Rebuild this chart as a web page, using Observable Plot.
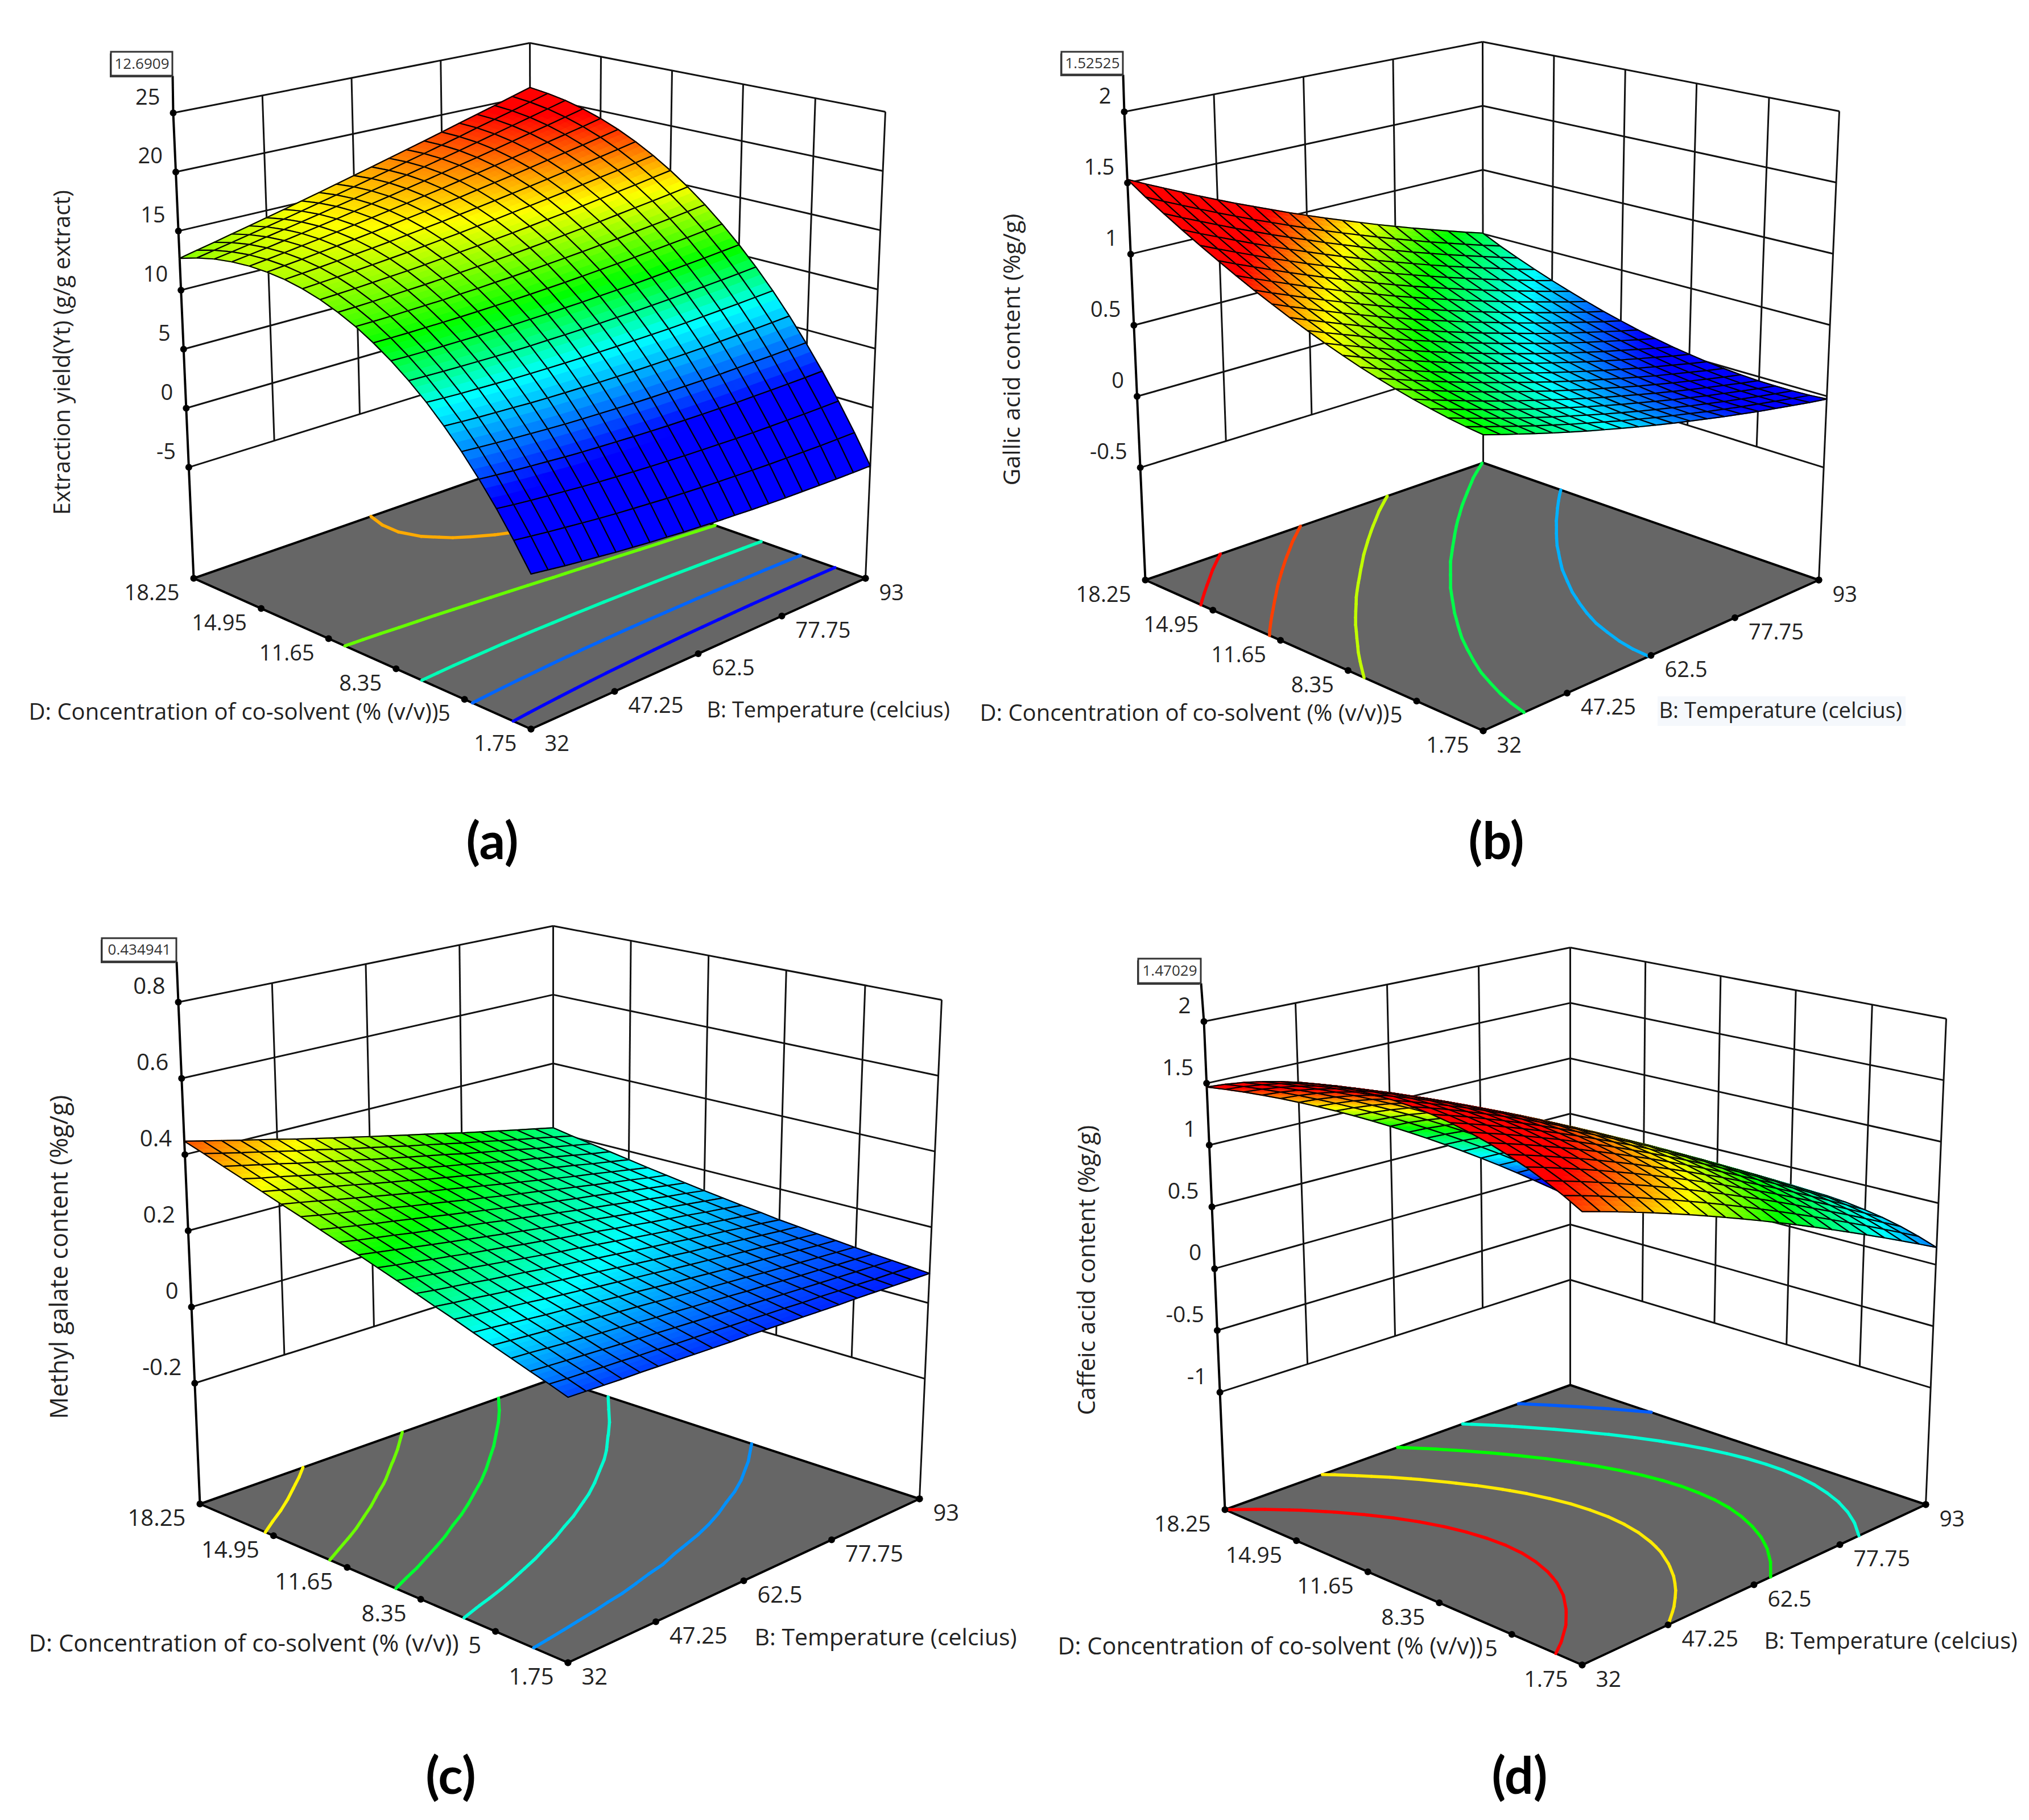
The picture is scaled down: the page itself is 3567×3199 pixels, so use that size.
<!DOCTYPE html>
<html>
<head>
<meta charset="utf-8">
<style>html,body{margin:0;padding:0;background:#fff}svg{display:block}</style>
<script src="https://cdn.jsdelivr.net/npm/d3@7"></script>
<script src="https://cdn.jsdelivr.net/npm/@observablehq/plot@0.6"></script>
</head>
<body>
<div id="chart"></div>
<script>
// Tick labels
const tempTicks = [32, 47.25, 62.5, 77.75, 93];
const solventTicks = [18.25, 14.95, 11.65, 8.35, 5, 1.75];
const yieldTicks = [-5, 0, 5, 10, 15, 20, 25];
const gallicTicks = [-0.5, 0, 0.5, 1, 1.5, 2];
const methylTicks = [-0.2, 0, 0.2, 0.4, 0.6, 0.8];
const caffeicTicks = [-1, -0.5, 0, 0.5, 1, 1.5, 2];

// Contour levels drawn on each floor
const yieldLevels = [-0.67, 3.67, 8, 12.3, 16.5];
const gallicLevels = [0.254, 0.508, 0.762, 1.017, 1.271];
const methylLevels = [0.124, 0.185, 0.247, 0.308, 0.37];
const caffeicLevels = [0.1, 0.44, 0.79, 1.13, 1.47];

// Rows run D = 1.75 to 18.25, columns run B = 32 to 93.
const yieldGrid = [
[-2.8,-2.99,-3.18,-3.35,-3.51,-3.68,-3.82,-3.96,-4.08,-4.21,-4.31,-4.42,-4.5,-4.59,-4.66,-4.73,-4.77,-4.82,-4.86,-4.89,-4.9],
[-.77,-.94,-1.11,-1.26,-1.41,-1.56,-1.69,-1.8,-1.91,-2.02,-2.11,-2.2,-2.27,-2.33,-2.39,-2.44,-2.47,-2.5,-2.53,-2.53,-2.53],
[1.14,.97,.82,.69,.56,.43,.32,.22,.13,.04,-.03,-.1,-.15,-.2,-.25,-.28,-.29,-.3,-.31,-.3,-.28],
[2.9,2.76,2.63,2.52,2.41,2.29,2.2,2.12,2.05,1.98,1.92,1.87,1.84,1.81,1.79,1.77,1.78,1.79,1.8,1.82,1.86],
[4.54,4.42,4.31,4.21,4.12,4.03,3.95,3.89,3.84,3.79,3.75,3.72,3.71,3.7,3.69,3.7,3.73,3.76,3.78,3.83,3.89],
[6.04,5.94,5.85,5.78,5.71,5.63,5.58,5.54,5.51,5.47,5.46,5.45,5.46,5.47,5.48,5.51,5.56,5.61,5.65,5.72,5.8],
[7.42,7.33,7.26,7.21,7.16,7.11,7.08,7.06,7.05,7.04,7.05,7.06,7.09,7.12,7.15,7.2,7.27,7.34,7.41,7.5,7.6],
[8.65,8.6,8.55,8.52,8.49,8.46,8.45,8.45,8.47,8.48,8.51,8.54,8.59,8.64,8.7,8.77,8.87,8.96,9.05,9.16,9.28],
[9.76,9.72,9.7,9.69,9.69,9.68,9.7,9.72,9.76,9.79,9.85,9.9,9.98,10.05,10.13,10.23,10.34,10.46,10.57,10.71,10.85],
[10.73,10.72,10.72,10.74,10.76,10.78,10.82,10.87,10.92,10.98,11.06,11.14,11.24,11.34,11.45,11.57,11.7,11.84,11.98,12.14,12.31],
[11.58,11.59,11.61,11.66,11.7,11.74,11.81,11.88,11.97,12.05,12.15,12.26,12.38,12.5,12.64,12.78,12.95,13.11,13.27,13.46,13.65],
[12.28,12.32,12.37,12.44,12.51,12.58,12.67,12.77,12.88,12.99,13.12,13.25,13.4,13.55,13.71,13.88,14.07,14.26,14.45,14.66,14.88],
[12.86,12.93,13,13.1,13.2,13.29,13.41,13.54,13.67,13.81,13.97,14.12,14.3,14.48,14.66,14.86,15.08,15.29,15.51,15.75,15.99],
[13.3,13.4,13.5,13.63,13.75,13.88,14.02,14.18,14.34,14.5,14.69,14.87,15.08,15.28,15.5,15.72,15.96,16.21,16.45,16.72,16.99],
[13.62,13.74,13.87,14.02,14.18,14.33,14.5,14.69,14.88,15.07,15.29,15.5,15.73,15.97,16.21,16.46,16.74,17.01,17.28,17.58,17.88],
[13.79,13.95,14.11,14.29,14.47,14.66,14.86,15.07,15.3,15.52,15.76,16,16.27,16.53,16.8,17.09,17.39,17.69,17.99,18.32,18.65],
[13.84,14.02,14.22,14.43,14.64,14.86,15.09,15.33,15.59,15.84,16.11,16.39,16.68,16.97,17.28,17.59,17.92,18.26,18.59,18.94,19.31],
[13.75,13.97,14.19,14.44,14.68,14.93,15.19,15.47,15.75,16.04,16.34,16.65,16.97,17.3,17.63,17.98,18.34,18.71,19.07,19.46,19.85],
[13.54,13.78,14.04,14.32,14.59,14.87,15.17,15.48,15.79,16.11,16.45,16.79,17.14,17.5,17.87,18.25,18.64,19.04,19.44,19.86,20.28],
[13.18,13.47,13.76,14.07,14.38,14.69,15.02,15.36,15.71,16.06,16.43,16.8,17.19,17.58,17.98,18.39,18.83,19.26,19.69,20.14,20.59],
[12.69,13.02,13.34,13.69,14.03,14.38,14.74,15.12,15.5,15.89,16.29,16.7,17.12,17.54,17.98,18.43,18.89,19.35,19.82,20.31,20.8]
];
const gallicGrid = [
[.6,.561,.524,.487,.45,.415,.38,.347,.314,.281,.25,.219,.19,.161,.132,.105,.078,.053,.028,.003,-.02],
[.612,.572,.534,.496,.458,.422,.386,.352,.318,.284,.252,.22,.19,.16,.13,.102,.074,.048,.022,-.004,-.028],
[.628,.587,.548,.509,.47,.433,.396,.361,.326,.291,.258,.225,.194,.163,.132,.103,.074,.047,.02,-.007,-.032],
[.648,.606,.566,.526,.486,.448,.41,.374,.338,.302,.268,.234,.202,.17,.138,.108,.078,.05,.022,-.006,-.032],
[.67,.627,.586,.545,.504,.465,.426,.389,.352,.315,.28,.245,.212,.179,.146,.115,.084,.055,.026,-.003,-.03],
[.697,.653,.611,.569,.527,.487,.447,.409,.371,.333,.297,.261,.227,.193,.159,.127,.095,.065,.035,.005,-.023],
[.727,.682,.639,.596,.553,.512,.471,.432,.393,.354,.317,.28,.245,.21,.175,.142,.109,.078,.047,.016,-.013],
[.76,.714,.67,.626,.582,.54,.498,.458,.418,.378,.34,.302,.266,.23,.194,.16,.126,.094,.062,.03,0],
[.798,.751,.706,.661,.616,.573,.53,.489,.448,.407,.368,.329,.292,.255,.218,.183,.148,.115,.082,.049,.018],
[.838,.79,.744,.698,.652,.608,.564,.522,.48,.438,.398,.358,.32,.282,.244,.208,.172,.138,.104,.07,.038],
[.883,.834,.787,.74,.693,.648,.603,.56,.517,.474,.433,.392,.353,.314,.275,.238,.201,.166,.131,.096,.063],
[.93,.88,.832,.784,.736,.69,.644,.6,.556,.512,.47,.428,.388,.348,.308,.27,.232,.196,.16,.124,.09],
[.982,.931,.882,.833,.784,.737,.69,.645,.6,.555,.512,.469,.428,.387,.346,.307,.268,.231,.194,.157,.122],
[1.036,.984,.934,.884,.834,.786,.738,.692,.646,.6,.556,.512,.47,.428,.386,.346,.306,.268,.23,.192,.156],
[1.095,1.042,.991,.94,.889,.84,.791,.744,.697,.65,.605,.56,.517,.474,.431,.39,.349,.31,.271,.232,.195],
[1.157,1.103,1.051,.999,.947,.897,.847,.799,.751,.703,.657,.611,.567,.523,.479,.437,.395,.355,.315,.275,.237],
[1.222,1.167,1.114,1.061,1.008,.957,.906,.857,.808,.759,.712,.665,.62,.575,.53,.487,.444,.403,.362,.321,.282],
[1.291,1.235,1.181,1.127,1.073,1.021,.969,.919,.869,.819,.771,.723,.677,.631,.585,.541,.497,.455,.413,.371,.331],
[1.364,1.307,1.252,1.197,1.142,1.089,1.036,.985,.934,.883,.834,.785,.738,.691,.644,.599,.554,.511,.468,.425,.384],
[1.44,1.382,1.326,1.27,1.214,1.16,1.106,1.054,1.002,.95,.9,.85,.802,.754,.706,.66,.614,.57,.526,.482,.44],
[1.525,1.466,1.409,1.352,1.295,1.24,1.185,1.132,1.079,1.026,.975,.924,.875,.826,.777,.73,.683,.638,.593,.548,.505]
];
const methylGrid = [
[.095,.094,.093,.092,.092,.091,.09,.089,.088,.087,.087,.086,.085,.084,.083,.082,.082,.081,.08,.079,.078],
[.111,.109,.108,.106,.105,.103,.102,.1,.099,.098,.096,.095,.093,.092,.09,.089,.087,.086,.084,.083,.082],
[.126,.124,.122,.12,.118,.116,.114,.112,.11,.108,.106,.104,.102,.1,.098,.096,.094,.092,.09,.088,.086],
[.142,.14,.137,.134,.132,.129,.127,.124,.121,.119,.116,.114,.111,.108,.106,.103,.1,.098,.095,.093,.09],
[.158,.155,.152,.149,.146,.142,.139,.136,.133,.13,.126,.123,.12,.117,.114,.11,.107,.104,.101,.098,.095],
[.174,.171,.167,.163,.159,.156,.152,.148,.144,.141,.137,.133,.13,.126,.122,.118,.115,.111,.107,.103,.1],
[.191,.186,.182,.178,.174,.169,.165,.161,.156,.152,.148,.144,.139,.135,.131,.126,.122,.118,.113,.109,.105],
[.207,.202,.198,.193,.188,.183,.178,.173,.169,.164,.159,.154,.149,.144,.139,.135,.13,.125,.12,.115,.111],
[.224,.218,.213,.208,.202,.197,.192,.186,.181,.176,.17,.165,.159,.154,.149,.143,.138,.133,.127,.122,.116],
[.241,.235,.229,.223,.217,.211,.205,.199,.193,.187,.182,.176,.17,.164,.158,.152,.146,.14,.134,.128,.123],
[.258,.251,.245,.238,.232,.225,.219,.213,.206,.2,.193,.187,.181,.174,.168,.161,.155,.149,.142,.136,.129],
[.275,.268,.261,.254,.247,.24,.233,.226,.219,.212,.205,.198,.192,.185,.178,.171,.164,.157,.15,.143,.136],
[.292,.284,.277,.27,.262,.255,.247,.24,.233,.225,.218,.21,.203,.195,.188,.181,.173,.166,.158,.151,.143],
[.309,.301,.293,.285,.278,.27,.262,.254,.246,.238,.23,.222,.214,.206,.198,.191,.183,.175,.167,.159,.151],
[.327,.318,.31,.302,.293,.285,.276,.268,.26,.251,.243,.234,.226,.218,.209,.201,.192,.184,.176,.167,.159],
[.344,.336,.327,.318,.309,.3,.291,.282,.273,.265,.256,.247,.238,.229,.22,.211,.202,.194,.185,.176,.167],
[.362,.353,.344,.334,.325,.316,.306,.297,.288,.278,.269,.26,.25,.241,.232,.222,.213,.204,.194,.185,.176],
[.38,.37,.361,.351,.341,.331,.321,.312,.302,.292,.282,.272,.263,.253,.243,.233,.224,.214,.204,.194,.185],
[.398,.388,.378,.368,.357,.347,.337,.327,.316,.306,.296,.286,.276,.265,.255,.245,.235,.224,.214,.204,.194],
[.417,.406,.395,.385,.374,.363,.353,.342,.331,.321,.31,.299,.289,.278,.267,.257,.246,.235,.225,.214,.203],
[.435,.424,.413,.402,.391,.38,.368,.357,.346,.335,.324,.313,.302,.291,.28,.268,.257,.246,.235,.224,.213]
];
const caffeicGrid = [
[1.36,1.318,1.274,1.228,1.18,1.13,1.078,1.024,.968,.91,.85,.788,.724,.658,.59,.52,.448,.374,.298,.22,.14],
[1.437,1.395,1.35,1.303,1.255,1.204,1.151,1.096,1.039,.98,.919,.855,.79,.722,.653,.581,.508,.432,.354,.274,.192],
[1.506,1.463,1.418,1.371,1.321,1.269,1.216,1.16,1.102,1.041,.979,.914,.848,.779,.708,.634,.559,.482,.402,.32,.236],
[1.567,1.524,1.478,1.43,1.38,1.327,1.273,1.216,1.157,1.095,1.032,.966,.897,.827,.755,.68,.603,.523,.442,.358,.272],
[1.62,1.576,1.53,1.481,1.43,1.377,1.321,1.264,1.203,1.141,1.076,1.009,.94,.868,.793,.717,.638,.557,.474,.388,.3],
[1.667,1.623,1.576,1.526,1.475,1.421,1.364,1.305,1.244,1.181,1.115,1.046,.975,.902,.826,.748,.668,.586,.5,.412,.322],
[1.706,1.661,1.614,1.564,1.511,1.457,1.399,1.339,1.277,1.212,1.145,1.075,1.003,.928,.851,.772,.689,.605,.518,.428,.336],
[1.738,1.693,1.645,1.594,1.541,1.485,1.427,1.366,1.303,1.237,1.169,1.097,1.024,.948,.869,.788,.704,.617,.528,.437,.343],
[1.762,1.716,1.668,1.616,1.563,1.506,1.447,1.385,1.321,1.254,1.184,1.112,1.037,.959,.879,.796,.71,.622,.531,.438,.342],
[1.779,1.733,1.684,1.632,1.577,1.52,1.46,1.397,1.332,1.263,1.193,1.119,1.043,.964,.882,.798,.71,.62,.527,.432,.334],
[1.788,1.741,1.691,1.639,1.584,1.526,1.465,1.401,1.334,1.265,1.193,1.118,1.04,.96,.877,.791,.702,.61,.515,.418,.318],
[1.79,1.743,1.692,1.639,1.583,1.524,1.462,1.398,1.33,1.26,1.187,1.111,1.031,.949,.864,.777,.686,.592,.496,.397,.295],
[1.784,1.736,1.685,1.632,1.575,1.515,1.452,1.387,1.318,1.247,1.172,1.095,1.014,.931,.844,.755,.662,.567,.469,.368,.264],
[1.771,1.723,1.671,1.617,1.559,1.499,1.435,1.369,1.299,1.226,1.151,1.072,.99,.905,.817,.726,.632,.535,.435,.332,.226],
[1.75,1.701,1.649,1.594,1.536,1.475,1.41,1.342,1.272,1.198,1.121,1.041,.957,.871,.782,.69,.594,.495,.393,.288,.18],
[1.722,1.673,1.62,1.564,1.505,1.444,1.378,1.309,1.238,1.163,1.085,1.003,.918,.831,.74,.646,.549,.448,.344,.238,.127],
[1.686,1.636,1.583,1.527,1.467,1.404,1.338,1.268,1.195,1.119,1.04,.957,.872,.782,.69,.594,.495,.393,.287,.178,.066],
[1.644,1.594,1.54,1.483,1.423,1.359,1.292,1.221,1.148,1.07,.99,.906,.818,.728,.634,.536,.436,.331,.224,.113,-.001],
[1.594,1.543,1.489,1.431,1.371,1.306,1.238,1.166,1.091,1.013,.931,.846,.757,.665,.57,.471,.368,.262,.153,.04,-.076],
[1.536,1.485,1.43,1.372,1.31,1.244,1.175,1.102,1.027,.948,.865,.778,.688,.594,.497,.397,.292,.185,.074,-.041,-.159],
[1.47,1.418,1.363,1.304,1.241,1.175,1.105,1.032,.955,.874,.79,.702,.611,.516,.417,.315,.21,.1,-.013,-.13,-.25]
];

// Layout of each panel: projected corners of the box and where the text sits.
const panels = [
  {grid: yieldGrid, ticks: yieldTicks, levels: yieldLevels, stops: [1.5, 7, 10.5, 15, 19.5], zFloor: -14.4,
   floor: {front:[933,1281], right:[1521,1016], left:[340,1016], back:[933,809]},
   top: {front:[933,355], right:[1556,196], left:[304,198], back:[931,75]},
   flag: {text:"12.6909", x1:195, x2:303, y1:91, y2:133},
   sizes: {tick:38, d:40, b:38, z:39.5},
   zTitle: {text:"Extraction yield(Yt) (g/g extract)", x:110, y:619},
   dTitle: {x:50, y:1252}, bTitle: {x:1242, y:1248}, letter: {text:"(a)", x:865, y:1481}},
  {grid: gallicGrid, ticks: gallicTicks, levels: gallicLevels, stops: [0.08, 0.33, 0.58, 0.82, 1.08], zFloor: -1.29,
   floor: {front:[2607,1284], right:[3197,1019], left:[2013,1019], back:[2607,813]},
   top: {front:[2607,378], right:[3233,195], left:[1976,196], back:[2606,73]},
   flag: {text:"1.52525", x1:1866, x2:1974, y1:91, y2:131},
   sizes: {tick:38, d:40, b:38, z:41},
   zTitle: {text:"Gallic acid content (%g/g)", x:1779, y:614},
   dTitle: {x:1722, y:1254}, bTitle: {x:2916, y:1249}, letter: {text:"(b)", x:2630, y:1481}},
  {grid: methylGrid, ticks: methylTicks, levels: methylLevels, stops: [0.068, 0.167, 0.266, 0.366, 0.465], zFloor: -0.517,
   floor: {front:[998,2922], right:[1616,2634], left:[351,2643], back:[972,2423]},
   top: {front:[998,1918], right:[1655,1757], left:[313,1761], back:[972,1627]},
   flag: {text:"0.434941", x1:179, x2:310, y1:1649, y2:1690},
   sizes: {tick:40, d:42, b:41, z:43},
   zTitle: {text:"Methyl galate content (%g/g)", x:105, y:2209},
   dTitle: {x:50, y:2889}, bTitle: {x:1326, y:2878}, letter: {text:"(c)", x:792, y:3124}},
  {grid: caffeicGrid, ticks: caffeicTicks, levels: caffeicLevels, stops: [-0.05, 0.37, 0.79, 1.1, 1.47], zFloor: -1.95,
   floor: {front:[2781,2926], right:[3385,2644], left:[2153,2653], back:[2760,2434]},
   top: {front:[2781,1975], right:[3421,1790], left:[2116,1795], back:[2760,1665]},
   flag: {text:"1.47029", x1:2001, x2:2111, y1:1685, y2:1728},
   sizes: {tick:39, d:41.5, b:39.6, z:41.5},
   zTitle: {text:"Caffeic acid content (%g/g)", x:1911, y:2232},
   dTitle: {x:1859, y:2894}, bTitle: {x:3101, y:2885}, letter: {text:"(d)", x:2671, y:3124}}
];

const dTitleText = "D: Concentration of co-solvent (% (v/v))";
const bTitleText = "B: Temperature (celcius)";
const rainbow = ["#0000ff", "#00ffff", "#00ff00", "#ffff00", "#ff0000"];
const rainbowStops = [0, 0.25, 0.5, 0.75, 1];
const shadeSteps = 3; // smooth shading inside each mesh cell
const font = "'Open Sans', sans-serif";
const lerp = (a, b, t) => a + (b - a) * t;
const bil = (c, u, v, k) => lerp(lerp(c.front[k], c.right[k], u), lerp(c.left[k], c.back[k], u), v);
const shade = d3.scaleLinear().domain(rainbowStops).range(rainbow).interpolate(d3.interpolateRgb);

const floorRows = [], wallLinks = [], contourSegs = [], quads = [],
      dots = [], zLabels = [], dLabels = [], bLabels = [], flagBoxes = [], flagShadows = [],
      flagTexts = [], zTitles = [], dTitles = [], bTitles = [], letters = [], axisLinks = [];

panels.forEach((p, pi) => {
  const zTop = p.ticks[p.ticks.length - 1], zLow = p.ticks[0];
  const toT = d3.scaleLinear().domain(p.stops).range(rainbowStops).clamp(true);
  const proj = (u, v, z) => {
    const t = (z - p.zFloor) / (zTop - p.zFloor);
    return {x: lerp(bil(p.floor, u, v, 0), bil(p.top, u, v, 0), t),
            y: lerp(bil(p.floor, u, v, 1), bil(p.top, u, v, 1), t)};
  };
  const link = (a, b) => ({x1: a.x, y1: a.y, x2: b.x, y2: b.y});
  const uOf = b => (b - tempTicks[0]) / (tempTicks[4] - tempTicks[0]);
  const vOf = d => (d - solventTicks[5]) / (solventTicks[0] - solventTicks[5]);

  [[0,0],[1,0],[1,1],[0,1],[0,0]].forEach(([u, v]) => floorRows.push({...proj(u, v, p.zFloor), id: pi}));

  p.ticks.forEach(z => {
    wallLinks.push(link(proj(0,1,z), proj(1,1,z)));
    wallLinks.push(link(proj(1,1,z), proj(1,0,z)));
  });
  tempTicks.slice(1, 4).forEach(b => wallLinks.push(link(proj(uOf(b),1,zLow), proj(uOf(b),1,zTop))));
  solventTicks.slice(1, 5).forEach(d => wallLinks.push(link(proj(1,vOf(d),zLow), proj(1,vOf(d),zTop))));
  wallLinks.push(link(proj(1,1,p.zFloor), proj(1,1,zTop)));
  wallLinks.push(link(proj(1,0,p.zFloor), proj(1,0,zTop)));

  const n = p.grid.length - 1;
  p.levels.forEach(level => {
    const t = toT(level);
    for (let j = 0; j < n; j++) for (let i = 0; i < n; i++) {
      const c = [[i,j],[i+1,j],[i+1,j+1],[i,j+1]];
      const hits = [];
      for (let e = 0; e < 4; e++) {
        const [ax, ay] = c[e], [bx, by] = c[(e + 1) % 4];
        const za = p.grid[ay][ax], zb = p.grid[by][bx];
        if ((za < level) !== (zb < level)) {
          const f = (level - za) / (zb - za);
          hits.push(proj(lerp(ax, bx, f) / n, lerp(ay, by, f) / n, p.zFloor));
        }
      }
      for (let h = 0; h + 1 < hits.length; h += 2) contourSegs.push({...link(hits[h], hits[h + 1]), t});
    }
  });

  // Surface, far corner first so nearer cells paint over farther ones
  for (let s = 2 * n - 2; s >= 0; s--) for (let j = 0; j < n; j++) {
    const i = s - j;
    if (i < 0 || i >= n) continue;
    const zAt = (a, b) => lerp(lerp(p.grid[j][i], p.grid[j][i+1], a), lerp(p.grid[j+1][i], p.grid[j+1][i+1], a), b);
    const at = (a, b) => proj((i + a) / n, (j + b) / n, zAt(a, b));
    const m = shadeSteps;
    for (let sb = m - 1; sb >= 0; sb--) for (let sa = m - 1; sa >= 0; sa--) {
      const col = shade(toT(zAt((sa + .5) / m, (sb + .5) / m)));
      const id = `${pi}-${j}-${i}-${sb}-${sa}`;
      [[sa,sb],[sa+1,sb],[sa+1,sb+1],[sa,sb+1],[sa,sb]].forEach(([a, b]) =>
        quads.push({...at(a / m, b / m), id, fill: col, stroke: col}));
    }
    const id = `${pi}-${j}-${i}-mesh`;
    [[0,0],[1,0],[1,1],[0,1],[0,0]].forEach(([a, b]) =>
      quads.push({...at(a, b), id, fill: "none", stroke: "#000"}));
  }

  const s = p.sizes;
  p.ticks.forEach(z => {
    const q = proj(0, 1, z);
    dots.push(q);
    zLabels.push({...q, text: String(z), fs: s.tick});
  });
  solventTicks.forEach(d => {
    const q = proj(0, vOf(d), p.zFloor);
    dots.push(q);
    dLabels.push({...q, text: String(d), fs: s.tick});
  });
  tempTicks.forEach(b => {
    const q = proj(uOf(b), 0, p.zFloor);
    dots.push(q);
    bLabels.push({...q, text: String(b), fs: s.tick});
  });
  dots.push(proj(1, 0, p.zFloor));

  const lt = proj(0, 1, zTop);
  axisLinks.push(link(proj(0, 1, p.zFloor), lt));
  axisLinks.push(link(lt, {x: p.flag.x2, y: p.flag.y2}));

  flagBoxes.push(p.flag);
  flagShadows.push({x1: p.flag.x1 - 2, x2: p.flag.x2 - 2, y1: p.flag.y1 + 3, y2: p.flag.y2 + 3});
  flagTexts.push({x: (p.flag.x1 + p.flag.x2) / 2, y: (p.flag.y1 + p.flag.y2) / 2, text: p.flag.text});
  zTitles.push({...p.zTitle, fs: s.z});
  dTitles.push({...p.dTitle, text: dTitleText, fs: s.d});
  bTitles.push({...p.bTitle, text: bTitleText, fs: s.b});
  letters.push(p.letter);
});

const tickText = {fontFamily: font, fontSize: "fs", fill: "#222", text: "text", lineAnchor: "middle"};

const chart = Plot.plot({
  width: 3567, height: 3199, margin: 0,
  x: {domain: [0, 3567], range: [0, 3567], axis: null},
  y: {domain: [0, 3199], range: [0, 3199], axis: null},
  color: {type: "linear", domain: rainbowStops, range: rainbow, interpolate: "rgb"},
  style: {background: "#fff"},
  marks: [
    Plot.link(wallLinks, {x1: "x1", y1: "y1", x2: "x2", y2: "y2", stroke: "#111", strokeWidth: 3}),
    Plot.line(floorRows, {x: "x", y: "y", z: "id", fill: "#666666", stroke: "#000", strokeWidth: 4}),
    Plot.link(contourSegs, {x1: "x1", y1: "y1", x2: "x2", y2: "y2", stroke: "t", strokeWidth: 5.5, strokeLinecap: "round"}),
    Plot.link(axisLinks, {x1: "x1", y1: "y1", x2: "x2", y2: "y2", stroke: "#000", strokeWidth: 4}),
    Plot.line(quads, {x: "x", y: "y", z: "id", fill: "fill", stroke: "stroke", strokeWidth: 2.2, strokeLinejoin: "round"}),
    Plot.dot(dots, {x: "x", y: "y", r: 6, fill: "#000"}),
    Plot.rect(flagShadows, {x1: "x1", x2: "x2", y1: "y1", y2: "y2", fill: "#444"}),
    Plot.rect(flagBoxes, {x1: "x1", x2: "x2", y1: "y1", y2: "y2", fill: "#fff", stroke: "#333", strokeWidth: 3}),
    Plot.text(flagTexts, {x: "x", y: "y", text: "text", fontFamily: font, fontSize: 26, fill: "#333", lineAnchor: "middle"}),
    Plot.rect([{x1: 2914, x2: 3350, y1: 1224, y2: 1276}], {x1: "x1", x2: "x2", y1: "y1", y2: "y2", fill: "#f5f8fc"}),
    Plot.text(zLabels, {x: "x", y: "y", ...tickText, textAnchor: "end", dx: -23, dy: -27}),
    Plot.text(dLabels, {x: "x", y: "y", ...tickText, textAnchor: "end", dx: -25, dy: 26}),
    Plot.text(bLabels, {x: "x", y: "y", ...tickText, textAnchor: "start", dx: 24, dy: 26}),
    Plot.text(dTitles, {x: "x", y: "y", ...tickText, textAnchor: "start"}),
    Plot.text(bTitles, {x: "x", y: "y", ...tickText, textAnchor: "start"}),
    Plot.text(zTitles, {x: "x", y: "y", ...tickText, rotate: -90, textAnchor: "middle"}),
    Plot.text(letters, {x: "x", y: "y", text: "text", fontFamily: "Lato, sans-serif", fontWeight: "bold", fontSize: 90, fill: "#000", lineAnchor: "middle"})
  ]
});
document.getElementById("chart").appendChild(chart);
</script>
</body>
</html>
